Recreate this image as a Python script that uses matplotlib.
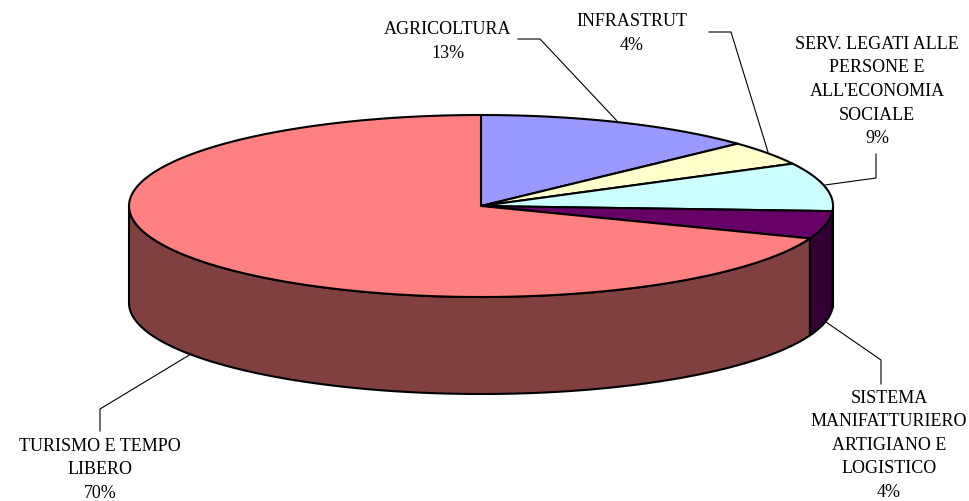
import matplotlib
matplotlib.use('Agg')
import matplotlib.pyplot as plt
import numpy as np

plt.rcParams['font.family'] = ['Liberation Serif', 'DejaVu Serif']

# slices clockwise from 12 o'clock
categories = ['AGRICOLTURA', 'INFRASTRUT', "SERV. LEGATI ALLE\nPERSONE E\nALL'ECONOMIA\nSOCIALE",
              'SISTEMA\nMANIFATTURIERO\nARTIGIANO E\nLOGISTICO', 'TURISMO E TEMPO\nLIBERO']
values = [13.0, 4.3, 8.6, 4.9, 69.2]
pct_labels = ['13%', '4%', '9%', '4%', '70%']
top_colors = ['#9999FF', '#FFFFCC', '#CCFFFF', '#660066', '#FF8080']
wall_colors = ['#4D4D80', '#808066', '#668080', '#330033', '#804040']

# label centre in px, leader line in px
label_pos = [(448, 21), (632, 13), (877, 36), (889, 390), (100, 438)]
leaders = [
    [(518, 40), (540, 40), (618, 123)],
    [(709, 33), (731, 33), (768, 153)],
    [(876, 155), (876, 179), (825, 186)],
    [(881, 385), (881, 361), (826, 323)],
    [(100, 432), (100, 410), (191, 355)],
]

cx, cy = 481, 207
rx, ry = 352, 91
depth = 97


def rim(a, dy=0):
    # a in degrees clockwise from the top
    a = np.radians(a)
    return cx + rx * np.sin(a), cy - ry * np.cos(a) + dy


fig = plt.figure(figsize=(9.7, 5.02), dpi=100)
ax = fig.add_axes([0, 0, 1, 1])
ax.set_xlim(0, 970)
ax.set_ylim(502, 0)
ax.axis('off')

edges = np.concatenate([[0], np.cumsum(values)]) / sum(values) * 360

# side walls, only the front half shows
for i in range(len(values)):
    a0, a1 = max(edges[i], 90), min(edges[i + 1], 270)
    if a1 <= a0:
        continue
    t = np.linspace(a0, a1, 120)
    xs, ys = rim(t)
    xb, yb = rim(t[::-1], depth)
    ax.fill(np.r_[xs, xb], np.r_[ys, yb], facecolor=wall_colors[i], edgecolor='black', lw=1.5, joinstyle='round')

# top face
for i in range(len(values)):
    t = np.linspace(edges[i], edges[i + 1], 200)
    xs, ys = rim(t)
    ax.fill(np.r_[cx, xs], np.r_[cy, ys], facecolor=top_colors[i], edgecolor='black', lw=1.5, joinstyle='round')

for pts in leaders:
    px, py = zip(*pts)
    ax.plot(px, py, color='black', lw=0.8)

for name, pct, (lx, ly) in zip(categories, pct_labels, label_pos):
    ax.text(lx, ly, name + '\n' + pct, ha='center', va='top', fontsize=13,
            linespacing=1.5, color='black')

fig.savefig('out.png', dpi=100)
